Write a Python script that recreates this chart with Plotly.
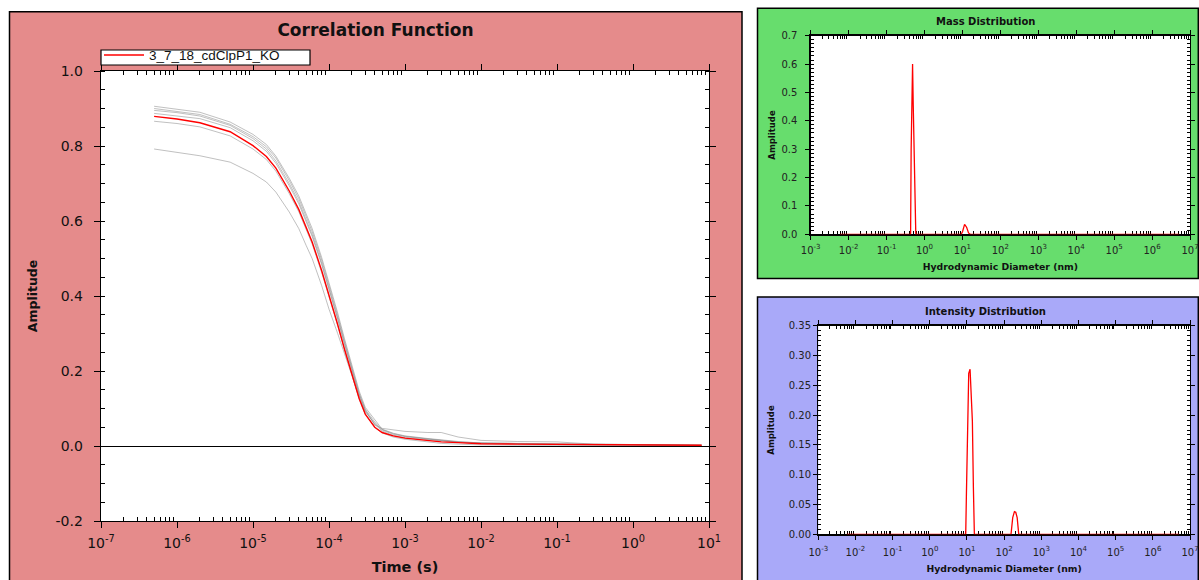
import plotly.graph_objects as go

# ---------------- data ----------------
TIME_S = [5e-7, 1e-6, 2e-6, 5e-6, 1e-5, 1.5e-5, 2e-5, 3e-5, 4e-5, 5e-5, 6e-5, 8e-5,
          1e-4, 1.3e-4, 1.6e-4, 2e-4, 2.5e-4, 3e-4, 4e-4, 5e-4, 7e-4, 1e-3,
          2e-3, 3e-3, 5e-3, 1e-2, 3e-2, 1e-1, 3e-1, 1.0, 3.0, 8.0]

CORR_RED = [0.879, 0.872, 0.862, 0.838, 0.801, 0.772, 0.741, 0.680, 0.631, 0.583, 0.544, 0.468,
            0.404, 0.324, 0.258, 0.191, 0.126, 0.085, 0.050, 0.036, 0.027, 0.021,
            0.014, 0.011, 0.009, 0.006, 0.005, 0.004, 0.003, 0.003, 0.002, 0.002]

CORR_GREY_1 = [0.906, 0.899, 0.890, 0.864, 0.831, 0.804, 0.773, 0.714, 0.667, 0.619, 0.580, 0.503,
               0.438, 0.355, 0.286, 0.215, 0.146, 0.103, 0.069, 0.045, 0.034, 0.027,
               0.020, 0.016, 0.012, 0.008, 0.006, 0.005, 0.004, 0.003, 0.003, 0.002]
CORR_GREY_2 = [0.900, 0.893, 0.884, 0.858, 0.825, 0.798, 0.768, 0.708, 0.660, 0.612, 0.572, 0.496,
               0.430, 0.348, 0.280, 0.208, 0.140, 0.098, 0.064, 0.043, 0.031, 0.025,
               0.018, 0.014, 0.010, 0.007, 0.005, 0.004, 0.003, 0.003, 0.002, 0.002]
CORR_GREY_3 = [0.895, 0.889, 0.880, 0.855, 0.820, 0.792, 0.760, 0.700, 0.652, 0.604, 0.564, 0.488,
               0.422, 0.341, 0.274, 0.203, 0.137, 0.097, 0.056, 0.047, 0.043, 0.039,
               0.036, 0.036, 0.024, 0.015, 0.012, 0.011, 0.005, 0.004, 0.003, 0.002]
CORR_GREY_4 = [0.887, 0.881, 0.873, 0.849, 0.814, 0.786, 0.754, 0.694, 0.646, 0.598, 0.559, 0.484,
               0.418, 0.338, 0.271, 0.200, 0.134, 0.093, 0.058, 0.040, 0.028, 0.022,
               0.016, 0.013, 0.010, 0.008, 0.007, 0.006, 0.004, 0.003, 0.002, 0.002]
CORR_GREY_5 = [0.866, 0.860, 0.851, 0.827, 0.792, 0.764, 0.733, 0.673, 0.625, 0.578, 0.539, 0.463,
               0.400, 0.322, 0.257, 0.190, 0.125, 0.085, 0.050, 0.035, 0.024, 0.018,
               0.010, 0.007, 0.005, 0.003, 0.002, 0.002, 0.001, 0.001, 0.001, 0.001]
CORR_GREY_6 = [0.792, 0.783, 0.774, 0.757, 0.727, 0.704, 0.677, 0.624, 0.580, 0.535, 0.500, 0.428,
               0.365, 0.300, 0.248, 0.188, 0.128, 0.092, 0.060, 0.044, 0.033, 0.026,
               0.019, 0.015, 0.011, 0.008, 0.006, 0.005, 0.004, 0.003, 0.003, 0.002]
GREY_SERIES = [CORR_GREY_1, CORR_GREY_2, CORR_GREY_3, CORR_GREY_4, CORR_GREY_5, CORR_GREY_6]

SAMPLE_NAME = "3_7_18_cdClpP1_KO"

MASS_DIAMETER_NM = [0.0059, 0.43, 0.445, 0.485, 0.505, 0.545, 0.59,
                    9.3, 10.1, 11.4, 12.9, 14.5, 16.1, 5.2e6]
MASS_AMPLITUDE = [0.0, 0.0, 0.30, 0.60, 0.455, 0.16, 0.0,
                  0.0, 0.010, 0.035, 0.025, 0.005, 0.0, 0.0]

INTENSITY_DIAMETER_NM = [0.0058, 9.25, 9.64, 10.47, 11.14, 12.1, 12.9, 13.96, 14.86, 15.8,
                         153, 170, 189, 205, 224, 247, 5.1e6]
INTENSITY_AMPLITUDE = [0.0, 0.0, 0.065, 0.195, 0.270, 0.277, 0.247, 0.190, 0.080, 0.0,
                       0.0, 0.028, 0.038, 0.037, 0.028, 0.0, 0.0]

TIME_TICK_EXP = [-7, -6, -5, -4, -3, -2, -1, 0, 1]
DIAM_TICK_EXP = [-3, -2, -1, 0, 1, 2, 3, 4, 5, 6, 7]
CORR_Y_TICKS = [-0.2, 0.0, 0.2, 0.4, 0.6, 0.8, 1.0]
CORR_Y_LABELS = ["-0.2", "0.0", "0.2", "0.4", "0.6", "0.8", "1.0"]
MASS_Y_TICKS = [0.0, 0.1, 0.2, 0.3, 0.4, 0.5, 0.6, 0.7]
MASS_Y_LABELS = ["0.0", "0.1", "0.2", "0.3", "0.4", "0.5", "0.6", "0.7"]
INT_Y_TICKS = [0.0, 0.05, 0.10, 0.15, 0.20, 0.25, 0.30, 0.35]
INT_Y_LABELS = ["0.00", "0.05", "0.10", "0.15", "0.20", "0.25", "0.30", "0.35"]

# ---------------- layout helpers ----------------
W, H = 1199, 580
FONT = "DejaVu Sans"
LEGEND_FONT = "Liberation Sans"
PINK = "#E58B8B"
GREEN = "#67DD6D"
LAVENDER = "#A9A9F9"
INK = "#111111"


def px(x):
    return x / W


def py(y):
    return 1 - y / H


def log_labels(exps):
    return [f"10<sup>{e}</sup>" for e in exps]


def minor_log(exps):
    vals = []
    for e in exps[:-1]:
        for m in range(2, 10):
            vals.append(m * 10.0 ** e)
    return vals


fig = go.Figure()

for g in GREY_SERIES:
    fig.add_trace(go.Scatter(x=TIME_S, y=g, mode="lines", showlegend=False, hoverinfo="skip",
                             line=dict(color="rgba(140,140,140,0.55)", width=1),
                             xaxis="x", yaxis="y"))
fig.add_trace(go.Scatter(x=TIME_S, y=CORR_RED, mode="lines", name=SAMPLE_NAME,
                         line=dict(color="#FF0000", width=1.4), xaxis="x", yaxis="y"))

fig.add_trace(go.Scatter(x=MASS_DIAMETER_NM, y=MASS_AMPLITUDE, mode="lines", showlegend=False,
                         line=dict(color="#FF0000", width=1.3), xaxis="x2", yaxis="y2"))
fig.add_trace(go.Scatter(x=INTENSITY_DIAMETER_NM, y=INTENSITY_AMPLITUDE, mode="lines",
                         showlegend=False, line=dict(color="#FF0000", width=1.3),
                         xaxis="x3", yaxis="y3"))

base_axis = dict(showline=True, linecolor="black", linewidth=1.3, mirror="allticks",
                 showgrid=False, zeroline=False, ticks="outside", tickcolor="black",
                 tickwidth=1, layer="below traces", automargin=False)

big_tick_font = dict(family=FONT, size=14, color=INK)
small_tick_font = dict(family=FONT, size=10, color="#222222")

xaxis = dict(base_axis, type="log", range=[-7, 1], domain=[px(101), px(709)], anchor="y",
             tickmode="array", tickvals=[10.0 ** e for e in TIME_TICK_EXP],
             ticktext=log_labels(TIME_TICK_EXP), ticklen=6, tickfont=big_tick_font,
             ticklabelstandoff=3,
             minor=dict(tickmode="array", tickvals=minor_log(TIME_TICK_EXP), ticks="inside",
                        ticklen=4, tickcolor="black"),
             title=dict(text="<b>Time (s)</b>", font=dict(family=FONT, size=14.5, color=INK),
                        standoff=11))
yaxis = dict(base_axis, range=[-0.2, 1.0], domain=[py(521), py(71)], anchor="x",
             tickmode="array", tickvals=CORR_Y_TICKS, ticktext=CORR_Y_LABELS, ticklen=6,
             tickfont=big_tick_font, ticklabelstandoff=8,
             zeroline=True, zerolinecolor="black", zerolinewidth=1,
             minor=dict(dtick=0.05, tick0=0, ticks="inside", ticklen=4, tickcolor="black"),
             title=dict(text="<b>Amplitude</b>", font=dict(family=FONT, size=12.5, color=INK),
                        standoff=15))

xaxis2 = dict(base_axis, type="log", range=[-3, 7], domain=[px(810.7), px(1190)], anchor="y2",
              tickmode="array", tickvals=[10.0 ** e for e in DIAM_TICK_EXP],
              ticktext=log_labels(DIAM_TICK_EXP), ticklen=4, tickfont=small_tick_font,
              ticklabelstandoff=2,
              minor=dict(tickmode="array", tickvals=minor_log(DIAM_TICK_EXP), ticks="inside",
                         ticklen=3, tickcolor="black"),
              title=dict(text="<b>Hydrodynamic Diameter (nm)</b>",
                         font=dict(family=FONT, size=9.3, color=INK), standoff=9))
yaxis2 = dict(base_axis, range=[0, 0.7], domain=[py(234.3), py(35.7)], anchor="x2",
              tickmode="array", tickvals=MASS_Y_TICKS, ticktext=MASS_Y_LABELS, ticklen=4,
              tickfont=small_tick_font, ticklabelstandoff=6,
              minor=dict(dtick=0.1 / 7, tick0=0, ticks="inside", ticklen=3, tickcolor="black"),
              title=dict(text="<b>Amplitude</b>", font=dict(family=FONT, size=8.5, color=INK),
                         standoff=4))

xaxis3 = dict(base_axis, type="log", range=[-3, 7], domain=[px(818.3), px(1190)], anchor="y3",
              tickmode="array", tickvals=[10.0 ** e for e in DIAM_TICK_EXP],
              ticktext=log_labels(DIAM_TICK_EXP), ticklen=4, tickfont=small_tick_font,
              ticklabelstandoff=4,
              minor=dict(tickmode="array", tickvals=minor_log(DIAM_TICK_EXP), ticks="inside",
                         ticklen=3, tickcolor="black"),
              title=dict(text="<b>Hydrodynamic Diameter (nm)</b>",
                         font=dict(family=FONT, size=9.3, color=INK), standoff=9))
yaxis3 = dict(base_axis, range=[0, 0.35], domain=[py(534.3), py(325.7)], anchor="x3",
              tickmode="array", tickvals=INT_Y_TICKS, ticktext=INT_Y_LABELS, ticklen=4,
              tickfont=small_tick_font,
              minor=dict(dtick=0.05 / 6, tick0=0, ticks="inside", ticklen=3, tickcolor="black"),
              title=dict(text="<b>Amplitude</b>", font=dict(family=FONT, size=8.5, color=INK),
                         standoff=12))

shapes = [
    # panel backgrounds
    dict(type="rect", xref="paper", yref="paper", x0=px(9.5), x1=px(742), y0=-0.05, y1=py(11.7),
         fillcolor=PINK, line=dict(color="black", width=1.5), layer="below"),
    dict(type="rect", xref="paper", yref="paper", x0=px(757.5), x1=px(1198.3), y0=py(278.5),
         y1=py(8.3), fillcolor=GREEN, line=dict(color="black", width=1.5), layer="below"),
    dict(type="rect", xref="paper", yref="paper", x0=px(757.5), x1=px(1198.3), y0=-0.05,
         y1=py(297), fillcolor=LAVENDER, line=dict(color="black", width=1.5), layer="below"),
    # legend frame
    dict(type="rect", xref="paper", yref="paper", x0=px(101), x1=px(310), y0=py(65),
         y1=py(50), fillcolor="white", line=dict(color="black", width=1.2), layer="above"),
]
for ax in ["", "2", "3"]:
    shapes.append(dict(type="rect", xref=f"x{ax} domain", yref=f"y{ax} domain", x0=0, x1=1,
                       y0=0, y1=1, fillcolor="white", line=dict(width=0), layer="below"))

annotations = [
    dict(text="<b>Mass Distribution</b>", xref="paper", yref="paper", x=px(985.5), y=py(21.7),
         xanchor="center", yanchor="middle", showarrow=False,
         font=dict(family=FONT, size=10, color=INK)),
    dict(text="<b>Intensity Distribution</b>", xref="paper", yref="paper", x=px(985.5),
         y=py(311.7), xanchor="center", yanchor="middle", showarrow=False,
         font=dict(family=FONT, size=10, color=INK)),
]

fig.update_layout(
    width=W, height=H, autosize=False,
    margin=dict(l=0, r=0, t=0, b=0),
    paper_bgcolor="white", plot_bgcolor="white",
    font=dict(family=FONT, color=INK),
    title=dict(text="<b>Correlation Function</b>", x=px(375.5), xanchor="center",
               y=py(30), yanchor="middle", automargin=False,
               font=dict(family=FONT, size=17, color=INK)),
    xaxis=xaxis, yaxis=yaxis, xaxis2=xaxis2, yaxis2=yaxis2, xaxis3=xaxis3, yaxis3=yaxis3,
    shapes=shapes, annotations=annotations,
    showlegend=True,
    legend=dict(x=px(99), y=py(55.3), xanchor="left", yanchor="middle", orientation="v",
                bgcolor="rgba(0,0,0,0)", borderwidth=0, itemwidth=40,
                font=dict(family=LEGEND_FONT, size=13.5, color=INK)),
    hovermode=False,
)

fig.write_html("out.html", config={"displayModeBar": False, "staticPlot": True},
               post_script="document.body.style.margin='0';document.body.style.overflow='hidden';")
